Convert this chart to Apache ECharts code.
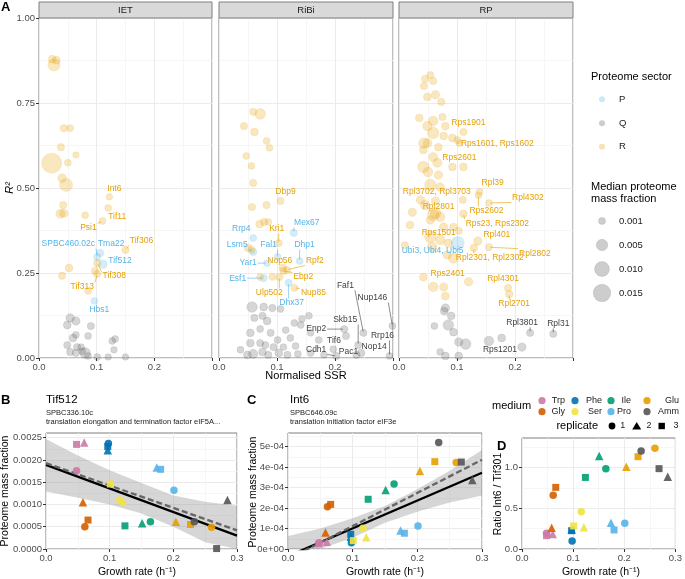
<!DOCTYPE html>
<html>
<head>
<meta charset="utf-8">
<script src="https://cdn.jsdelivr.net/npm/echarts@6/dist/echarts.min.js"></script>
<style>
  html, body { margin: 0; padding: 0; background: #fff; }
  #chart { width: 685px; height: 579px; }
</style>
</head>
<body>
<div id="chart"></div>
<script>
const FONT = '"Liberation Sans", Arial, Helvetica, sans-serif';

// ---- panel A: normalised SSR vs R2, one list per facet ----
// [normalised SSR, R2, median proteome mass fraction, sector, label]
const ietPoints = [
  [0.023, 0.879, 0.0015, 'R'], [0.030, 0.876, 0.0015, 'R'], [0.026, 0.862, 0.0060, 'R'],
  [0.043, 0.676, 0.0012, 'R'], [0.054, 0.676, 0.0010, 'R'], [0.038, 0.620, 0.0012, 'R'],
  [0.064, 0.597, 0.0008, 'R'], [0.050, 0.574, 0.0010, 'R'], [0.022, 0.573, 0.0210, 'R'],
  [0.040, 0.529, 0.0022, 'R'], [0.047, 0.509, 0.0070, 'R'], [0.042, 0.450, 0.0012, 'R'],
  [0.037, 0.424, 0.0025, 'R'], [0.043, 0.426, 0.0020, 'R'], [0.080, 0.420, 0.0010, 'R'],
  [0.085, 0.197, 0.0010, 'R'], [0.097, 0.256, 0.0012, 'R'], [0.052, 0.265, 0.0015, 'R'],
  [0.040, 0.242, 0.0012, 'R'],
  [0.122, 0.474, 0.0008, 'R', 'Int6'], [0.120, 0.441, 0.0010, 'R', 'Tif11'],
  [0.110, 0.403, 0.0010, 'R', 'Psi1'], [0.150, 0.318, 0.0012, 'R', 'Tif306'],
  [0.106, 0.309, 0.0012, 'P', 'Tma22'], [0.101, 0.297, 0.0012, 'P', 'SPBC460.02c'],
  [0.111, 0.276, 0.0020, 'P', 'Tif512'], [0.101, 0.279, 0.0012, 'R', 'Tif308'],
  [0.101, 0.247, 0.0012, 'R', 'Tif313'], [0.096, 0.168, 0.0010, 'P', 'Hbs1'],
  [0.054, 0.118, 0.0020, 'Q'], [0.064, 0.109, 0.0020, 'Q'], [0.049, 0.097, 0.0015, 'Q'],
  [0.090, 0.094, 0.0012, 'Q'], [0.059, 0.059, 0.0015, 'Q'], [0.064, 0.068, 0.0010, 'Q'],
  [0.085, 0.065, 0.0010, 'Q'], [0.132, 0.056, 0.0010, 'Q'], [0.127, 0.050, 0.0010, 'Q'],
  [0.049, 0.038, 0.0012, 'Q'], [0.066, 0.032, 0.0012, 'Q'], [0.073, 0.032, 0.0010, 'Q'],
  [0.130, 0.024, 0.0008, 'Q'], [0.054, 0.018, 0.0012, 'Q'], [0.080, 0.015, 0.0040, 'Q'],
  [0.064, 0.015, 0.0012, 'Q'], [0.085, 0.006, 0.0010, 'Q'], [0.101, 0.003, 0.0010, 'Q'],
  [0.120, 0.003, 0.0008, 'Q'], [0.150, 0.003, 0.0008, 'Q'], [0.075, 0.020, 0.0010, 'Q']
];
const ribiPoints = [
  [0.059, 0.724, 0.0012, 'R'], [0.071, 0.718, 0.0040, 'R'], [0.043, 0.682, 0.0012, 'R'],
  [0.061, 0.665, 0.0015, 'R'], [0.082, 0.638, 0.0010, 'R'], [0.087, 0.618, 0.0010, 'R'],
  [0.047, 0.594, 0.0010, 'R'], [0.056, 0.565, 0.0010, 'R'], [0.059, 0.515, 0.0012, 'R'],
  [0.057, 0.444, 0.0012, 'R'], [0.082, 0.450, 0.0012, 'R'], [0.070, 0.394, 0.0015, 'R'],
  [0.078, 0.400, 0.0012, 'R'], [0.085, 0.400, 0.0010, 'R'], [0.050, 0.324, 0.0015, 'R'],
  [0.056, 0.318, 0.0012, 'R'], [0.071, 0.238, 0.0010, 'R'], [0.092, 0.238, 0.0010, 'R'],
  [0.106, 0.462, 0.0012, 'R', 'Dbp9'], [0.103, 0.338, 0.0012, 'R', 'Kri1'],
  [0.129, 0.368, 0.0012, 'P', 'Mex67'], [0.059, 0.353, 0.0010, 'P', 'Rrp4'],
  [0.059, 0.312, 0.0012, 'P', 'Lsm5'], [0.101, 0.297, 0.0010, 'P', 'Fal1'],
  [0.139, 0.285, 0.0010, 'P', 'Dhp1'], [0.083, 0.279, 0.0010, 'P', 'Yar1'],
  [0.110, 0.265, 0.0015, 'R', 'Nop56'], [0.117, 0.259, 0.0012, 'R', 'Rpf2'],
  [0.111, 0.256, 0.0012, 'R', 'Ebp2'], [0.077, 0.235, 0.0012, 'P', 'Esf1'],
  [0.104, 0.238, 0.0012, 'R', 'Ulp502'], [0.130, 0.206, 0.0012, 'R', 'Nup85'],
  [0.120, 0.221, 0.0012, 'P', 'Dhx37'],
  [0.249, 0.074, 0.0012, 'Q', 'Faf1'], [0.299, 0.094, 0.0010, 'Q', 'Nup146'],
  [0.240, 0.038, 0.0012, 'Q', 'Skb15'], [0.216, 0.085, 0.0012, 'Q', 'Enp2'],
  [0.294, 0.006, 0.0010, 'Q', 'Rrp16'], [0.219, 0.065, 0.0012, 'Q', 'Tif6'],
  [0.245, 0.015, 0.0012, 'Q', 'Nop14'], [0.237, 0.009, 0.0012, 'Q', 'Pac1'],
  [0.202, 0.006, 0.0012, 'Q', 'Cdh1'],
  [0.057, 0.150, 0.0040, 'Q'], [0.077, 0.150, 0.0015, 'Q'], [0.092, 0.147, 0.0012, 'Q'],
  [0.061, 0.118, 0.0012, 'Q'], [0.075, 0.124, 0.0012, 'Q'], [0.106, 0.144, 0.0010, 'Q'],
  [0.083, 0.109, 0.0015, 'Q'], [0.130, 0.103, 0.0010, 'Q'], [0.155, 0.124, 0.0010, 'Q'],
  [0.143, 0.115, 0.0010, 'Q'], [0.054, 0.074, 0.0015, 'Q'], [0.071, 0.085, 0.0010, 'Q'],
  [0.089, 0.074, 0.0012, 'Q'], [0.115, 0.082, 0.0010, 'Q'], [0.141, 0.097, 0.0010, 'Q'],
  [0.054, 0.044, 0.0015, 'Q'], [0.071, 0.044, 0.0012, 'Q'], [0.101, 0.053, 0.0010, 'Q'],
  [0.123, 0.059, 0.0010, 'Q'], [0.158, 0.074, 0.0010, 'Q'], [0.059, 0.012, 0.0025, 'Q'],
  [0.075, 0.018, 0.0015, 'Q'], [0.085, 0.009, 0.0012, 'Q'], [0.103, 0.015, 0.0015, 'Q'],
  [0.118, 0.009, 0.0012, 'Q'], [0.136, 0.012, 0.0010, 'Q'], [0.158, 0.015, 0.0010, 'Q'],
  [0.181, 0.009, 0.0010, 'Q'], [0.197, 0.026, 0.0010, 'Q'], [0.094, 0.032, 0.0012, 'Q'],
  [0.111, 0.032, 0.0010, 'Q'], [0.049, 0.009, 0.0015, 'Q'], [0.037, 0.024, 0.0010, 'Q'],
  [0.080, 0.038, 0.0010, 'Q'], [0.132, 0.035, 0.0010, 'Q'], [0.172, 0.053, 0.0010, 'Q']
];
const rpPoints = [
  [0.054, 0.832, 0.0012, 'R'], [0.059, 0.815, 0.0012, 'R'], [0.045, 0.821, 0.0012, 'R'],
  [0.043, 0.800, 0.0012, 'R'], [0.049, 0.768, 0.0015, 'R'], [0.063, 0.774, 0.0020, 'R'],
  [0.073, 0.753, 0.0012, 'R'], [0.035, 0.706, 0.0015, 'R'], [0.049, 0.682, 0.0030, 'R'],
  [0.059, 0.697, 0.0030, 'R'], [0.075, 0.709, 0.0012, 'R'], [0.059, 0.662, 0.0050, 'R'],
  [0.080, 0.682, 0.0015, 'R'], [0.077, 0.653, 0.0015, 'R'], [0.092, 0.647, 0.0015, 'R'],
  [0.101, 0.641, 0.0012, 'R'], [0.049, 0.632, 0.0025, 'R'], [0.043, 0.632, 0.0040, 'R'],
  [0.068, 0.620, 0.0015, 'R'], [0.042, 0.612, 0.0015, 'R'], [0.059, 0.591, 0.0025, 'R'],
  [0.042, 0.562, 0.0050, 'R'], [0.050, 0.547, 0.0030, 'R'], [0.066, 0.574, 0.0025, 'R'],
  [0.068, 0.538, 0.0020, 'R'], [0.092, 0.562, 0.0015, 'R'], [0.054, 0.509, 0.0050, 'R'],
  [0.071, 0.503, 0.0020, 'R'], [0.059, 0.421, 0.0050, 'R'], [0.071, 0.415, 0.0030, 'R'],
  [0.054, 0.406, 0.0020, 'R'], [0.077, 0.385, 0.0020, 'R'], [0.094, 0.385, 0.0015, 'R'],
  [0.054, 0.356, 0.0050, 'R'], [0.071, 0.347, 0.0030, 'R'], [0.085, 0.338, 0.0020, 'R'],
  [0.057, 0.326, 0.0030, 'R'], [0.094, 0.294, 0.0040, 'R'], [0.083, 0.303, 0.0020, 'R'],
  [0.059, 0.209, 0.0030, 'R'], [0.077, 0.209, 0.0020, 'R'], [0.080, 0.182, 0.0015, 'R'],
  [0.042, 0.238, 0.0015, 'R'], [0.019, 0.391, 0.0015, 'R'], [0.010, 0.332, 0.0012, 'R'],
  [0.037, 0.465, 0.0020, 'R'], [0.023, 0.429, 0.0020, 'R'], [0.045, 0.450, 0.0030, 'R'],
  [0.063, 0.462, 0.0020, 'R'],
  [0.111, 0.665, 0.0012, 'R', 'Rps1901'], [0.104, 0.632, 0.0010, 'R', 'Rps1601, Rps1602'],
  [0.111, 0.562, 0.0015, 'R', 'Rps2601'], [0.139, 0.488, 0.0010, 'R', 'Rpl39'],
  [0.110, 0.465, 0.0012, 'R', 'Rpl3702, Rpl3703'], [0.155, 0.456, 0.0010, 'R', 'Rpl4302'],
  [0.137, 0.479, 0.0010, 'R', 'Rps2602'], [0.063, 0.426, 0.0040, 'R', 'Rpl2801'],
  [0.111, 0.424, 0.0015, 'R', 'Rps23, Rps2302'], [0.103, 0.374, 0.0012, 'R', 'Rps1501'],
  [0.136, 0.344, 0.0020, 'R', 'Rpl401'], [0.101, 0.338, 0.0075, 'P', 'Ubi3, Ubi4, Ubi5'],
  [0.155, 0.326, 0.0012, 'R', 'Rpl2802'], [0.129, 0.324, 0.0015, 'R', 'Rpl2301, Rpl2302'],
  [0.120, 0.224, 0.0020, 'R', 'Rps2401'], [0.188, 0.206, 0.0012, 'R', 'Rpl4301'],
  [0.190, 0.188, 0.0015, 'R', 'Rpl2701'],
  [0.226, 0.074, 0.0012, 'Q', 'Rpl3801'], [0.266, 0.071, 0.0012, 'Q', 'Rpl31'],
  [0.212, 0.032, 0.0020, 'Q', 'Rps1201'],
  [0.080, 0.147, 0.0020, 'Q'], [0.078, 0.138, 0.0015, 'Q'], [0.090, 0.124, 0.0015, 'Q'],
  [0.061, 0.094, 0.0010, 'Q'], [0.085, 0.097, 0.0040, 'Q'], [0.094, 0.076, 0.0015, 'Q'],
  [0.103, 0.047, 0.0020, 'Q'], [0.115, 0.041, 0.0040, 'Q'], [0.155, 0.050, 0.0030, 'Q'],
  [0.177, 0.059, 0.0015, 'Q'], [0.080, 0.006, 0.0015, 'Q'], [0.103, 0.006, 0.0015, 'Q'],
  [0.071, 0.018, 0.0010, 'Q']
];
const facetNames = ['IET', 'RiBi', 'RP'];
const sectors = ['P', 'Q', 'R'];
const sizeBreaks = [0.001, 0.005, 0.010, 0.015];
const ssrTicks = [0, 0.1, 0.2];
const ssrGrid = [0, 0.1, 0.2, 0.3];
const ssrMinor = [0.05, 0.15, 0.25];
const r2Ticks = [0, 0.25, 0.5, 0.75, 1];
const r2Minor = [0.125, 0.375, 0.625, 0.875];

// ---- panels B-D: one row per medium, columns are replicates 1..3 ----
const media = ['Trp', 'Gly', 'Phe', 'Ser', 'Ile', 'Pro', 'Glu', 'Amm'];
const replicates = [1, 2, 3];
const growthRate = [
  [0.048, 0.060, 0.048], [0.061, 0.058, 0.066], [0.098, 0.097, 0.097], [0.116, 0.121, 0.101],
  [0.164, 0.151, 0.124], [0.201, 0.174, 0.180], [0.260, 0.204, 0.227], [0.233, 0.285, 0.268]
];
const tif512 = [
  [0.00176, 0.00239, 0.00235], [0.00050, 0.00105, 0.00065], [0.00237, 0.00222, 0.00230],
  [0.00110, 0.00106, 0.00146], [0.00061, 0.00058, 0.00052], [0.00132, 0.00183, 0.00179],
  [0.00049, 0.00061, 0.00055], [0.00061, 0.00110, 0.00001]
];
const int6 = [
  [0.31e-4, 0.36e-4, 0.25e-4], [2.07e-4, 0.81e-4, 2.18e-4], [0.31e-4, 0.60e-4, 0.72e-4],
  [1.01e-4, 0.57e-4, 0.41e-4], [3.18e-4, 2.88e-4, 2.43e-4], [1.12e-4, 0.90e-4, 0.77e-4],
  [4.23e-4, 3.81e-4, 4.27e-4], [5.20e-4, 3.37e-4, 4.25e-4]
];
const ratioInt6Tif301 = [
  [0.193, 0.184, 0.164], [0.660, 0.262, 0.758], [0.098, 0.240, 0.225], [0.459, 0.266, 0.283],
  [0.988, 1.143, 0.880], [0.316, 0.324, 0.234], [1.238, 1.010, 1.135], [1.205, 0.890, 0.988]
];

// fitted lines (at growth 0 and 0.3) and confidence band
const fitEnds = [0, 0.3];
const bandX = [0, 0.05, 0.1, 0.15, 0.2, 0.25, 0.3];
const tif512Fit = [0.00189, 0.00030];
const tif512FitAlt = [0.00193, 0.00042];
const tif512Upper = [0.00247, 0.00210, 0.00177, 0.00148, 0.00120, 0.00106, 0.00097];
const tif512Lower = [0.00129, 0.00115, 0.00100, 0.00080, 0.00050, 0.00015, -0.00035];
const int6Fit = [-0.35e-4, 3.73e-4];
const int6FitAlt = [-0.50e-4, 4.36e-4];
const int6Upper = [0.63e-4, 1.00e-4, 1.50e-4, 2.10e-4, 2.92e-4, 3.83e-4, 4.84e-4];
const int6Lower = [-1.33e-4, -0.34e-4, 0.55e-4, 1.28e-4, 1.82e-4, 2.27e-4, 2.62e-4];

const growthTicks = [0, 0.1, 0.2, 0.3];
const growthMinor = [0.05, 0.15, 0.25];
const tif512Ticks = [0, 0.0005, 0.001, 0.0015, 0.002, 0.0025];
const tif512Minor = [0.00025, 0.00075, 0.00125, 0.00175, 0.00225];
const int6Ticks = [0, 1e-4, 2e-4, 3e-4, 4e-4, 5e-4];
const int6Minor = [0.5e-4, 1.5e-4, 2.5e-4, 3.5e-4, 4.5e-4, 5.5e-4];
const ratioTicks = [0, 0.5, 1];
const ratioMinor = [0.25, 0.75, 1.25];

// ---- styling ----
const sectorColors = { P: '#56B4E9', Q: '#5a5a5a', R: '#E69F00' };
const labelColors = { P: '#56B4E9', Q: '#404040', R: '#E69F00' };
const mediumColors = ['#CC79A7', '#D55E00', '#0072B2', '#F0E442', '#009E73', '#56B4E9', '#E69F00', '#555555'];
const repSymbols = ['circle', 'triangle', 'rect'];
const repSizes = [7.5, 8.5, 7];

const labelNudge = {
  'Int6': [5, -8], 'Tif11': [9, 9], 'Psi1': [-14, 7], 'Tif306': [16, -9], 'Tma22': [11, -9],
  'SPBC460.02c': [-29, -13], 'Tif512': [17, -4], 'Tif308': [17, 13], 'Tif313': [-15, 13], 'Hbs1': [5, 9],
  'Dbp9': [5, -9], 'Kri1': [-2, -14], 'Mex67': [13, -10], 'Rrp4': [-12, -9], 'Lsm5': [-16, -7],
  'Fal1': [-9, -12], 'Dhp1': [5, -16], 'Yar1': [-19, 0], 'Nop56': [-3, -7], 'Rpf2': [28, -9],
  'Ebp2': [20, 6], 'Esf1': [-26, 1], 'Ulp502': [-10, 16], 'Nup85': [19, 5], 'Dhx37': [3, 20],
  'Faf1': [-18, -47], 'Nup146': [-20, -28], 'Skb15': [-13, -25], 'Enp2': [-28, 0], 'Rrp16': [-7, -20],
  'Tif6': [-12, 5], 'Nop14': [13, -6], 'Pac1': [-8, -3], 'Cdh1': [-20, -6],
  'Rps1901': [5, -9], 'Rps1601, Rps1602': [38, 1], 'Rps2601': [-4, -9], 'Rpl39': [13, -9],
  'Rpl3702, Rpl3703': [-26, -8], 'Rpl4302': [39, -5], 'Rps2602': [8, 16], 'Rpl2801': [3, -7],
  'Rps23, Rps2302': [34, 10], 'Rps1501': [-20, 2], 'Rpl401': [19, -6], 'Ubi3, Ubi4, Ubi5': [-25, 8],
  'Rpl2802': [46, 6], 'Rpl2301, Rpl2302': [16, 10], 'Rps2401': [-21, -8], 'Rpl4301': [-5, -9],
  'Rpl2701': [5, 10], 'Rpl3801': [-8, -10], 'Rpl31': [5, -10], 'Rps1201': [-22, 3]
};

const grids = [
  { left: 39, top: 18, width: 173, height: 340 },
  { left: 219, top: 18, width: 174, height: 340 },
  { left: 399, top: 18, width: 174, height: 340 },
  { left: 46, top: 433, width: 191, height: 116 },
  { left: 288, top: 433, width: 194, height: 116 },
  { left: 522, top: 438, width: 157, height: 111 }
];

function massToSize(m) {
  return 3.3 + 116 * Math.sqrt(m);
}

const measureCtx = document.createElement('canvas').getContext('2d');
measureCtx.font = '8.5px ' + FONT;
function textWidth(t) {
  return measureCtx.measureText(t).width;
}

function mainAxis(g, min, max, ticks, gridValues, opts) {
  return {
    type: 'value', gridIndex: g, min: min, max: max,
    axisLine: { show: false },
    axisTick: { show: opts.ticks !== false, length: 3, lineStyle: { color: '#333' }, customValues: gridValues },
    axisLabel: {
      show: opts.labels !== false, customValues: ticks, fontSize: opts.fontSize || 9.5,
      color: '#4d4d4d', fontFamily: FONT, margin: 4, formatter: opts.fmt
    },
    splitLine: { show: true, lineStyle: { color: '#ebebeb', width: 1 } }
  };
}

function minorAxis(g, min, max, values, position) {
  return {
    type: 'value', gridIndex: g, min: min, max: max, position: position,
    axisLine: { show: false }, axisTick: { show: false, customValues: values },
    axisLabel: { show: false, customValues: values },
    splitLine: { show: true, lineStyle: { color: '#f4f4f4', width: 0.8 } }
  };
}

const fmt1 = v => v.toFixed(1);
const fmt2 = v => v.toFixed(2);
const fmt4 = v => v.toFixed(4);
const fmtSci = v => v === 0 ? '0e+00' : Math.round(v * 1e4) + 'e-04';

const xRanges = [[0, 0.3], [0, 0.3], [0, 0.3], [0, 0.3], [0, 0.3], [0, 0.3]];
const yRanges = [[0, 1], [0, 1], [0, 1], [0, 0.002606], [0, 0.000567], [0, 1.365]];

const xAxes = [];
const yAxes = [];
for (let g = 0; g < 3; g++) {
  xAxes.push(mainAxis(g, 0, 0.3, ssrTicks, ssrGrid, { fmt: fmt1 }));
  yAxes.push(mainAxis(g, 0, 1, r2Ticks, r2Ticks, { fmt: fmt2, labels: g === 0, ticks: g === 0 }));
}
xAxes.push(mainAxis(3, 0, 0.3, growthTicks, growthTicks, { fmt: fmt1 }));
yAxes.push(mainAxis(3, 0, yRanges[3][1], tif512Ticks, tif512Ticks, { fmt: fmt4 }));
xAxes.push(mainAxis(4, 0, 0.3, growthTicks, growthTicks, { fmt: fmt1 }));
yAxes.push(mainAxis(4, 0, yRanges[4][1], int6Ticks, int6Ticks, { fmt: fmtSci }));
xAxes.push(mainAxis(5, 0, 0.3, growthTicks, growthTicks, { fmt: fmt1 }));
yAxes.push(mainAxis(5, 0, yRanges[5][1], ratioTicks, ratioTicks, { fmt: fmt1 }));
const xMinors = [ssrMinor, ssrMinor, ssrMinor, growthMinor, growthMinor, growthMinor];
const yMinors = [r2Minor, r2Minor, r2Minor, tif512Minor, int6Minor, ratioMinor];
for (let g = 0; g < 6; g++) {
  xAxes.push(minorAxis(g, xRanges[g][0], xRanges[g][1], xMinors[g], 'bottom'));
  yAxes.push(minorAxis(g, yRanges[g][0], yRanges[g][1], yMinors[g], 'left'));
}

const series = [];

// panel A points
[ietPoints, ribiPoints, rpPoints].forEach((points, g) => {
  sectors.forEach(s => {
    series.push({
      type: 'scatter', name: s, xAxisIndex: g, yAxisIndex: g, silent: true,
      data: points.filter(p => p[3] === s).map(p => [p[0], p[1], p[2]]),
      symbolSize: v => massToSize(v[2]),
      itemStyle: { color: sectorColors[s], opacity: 0.25, borderColor: sectorColors[s], borderWidth: 0.5 }
    });
  });
  const labelled = points.filter(p => p[4]);
  series.push({
    type: 'custom', xAxisIndex: g, yAxisIndex: g, clip: false, silent: true, z: 4,
    data: labelled.map(p => [p[0], p[1]]),
    encode: { x: 0, y: 1 },
    renderItem: function (params, api) {
      const p = labelled[params.dataIndex];
      const c = api.coord([api.value(0), api.value(1)]);
      const n = labelNudge[p[4]] || [0, 0];
      const lx = c[0] + n[0];
      const ly = c[1] + n[1];
      const w = textWidth(p[4]) + 2;
      const h = 9;
      const qx = Math.max(lx - w / 2, Math.min(c[0], lx + w / 2));
      const qy = Math.max(ly - h / 2, Math.min(c[1], ly + h / 2));
      const d = Math.hypot(qx - c[0], qy - c[1]);
      const color = labelColors[p[3]];
      const children = [];
      if (d > 5) {
        const ux = (qx - c[0]) / d, uy = (qy - c[1]) / d;
        children.push({
          type: 'line',
          shape: { x1: c[0] + ux * 1.5, y1: c[1] + uy * 1.5, x2: qx, y2: qy },
          style: { stroke: color, lineWidth: 0.6 }
        });
      }
      children.push({
        type: 'text',
        style: { text: p[4], x: lx, y: ly, fill: color, font: '8.5px ' + FONT, align: 'center', verticalAlign: 'middle' }
      });
      return { type: 'group', children: children };
    }
  });
});

// confidence band as one polygon through the axis scales
function bandSeries(g, upper, lower) {
  return {
    type: 'custom', xAxisIndex: g, yAxisIndex: g, silent: true, z: 1,
    data: bandX.map((x, i) => [x, lower[i], upper[i]]),
    encode: { x: 0, y: [1, 2] },
    renderItem: function (params, api) {
      if (params.dataIndex !== 0) return null;
      const top = bandX.map((x, i) => api.coord([x, upper[i]]));
      const bottom = bandX.map((x, i) => api.coord([x, lower[i]])).reverse();
      const pts = echarts.graphic.clipPointsByRect(top.concat(bottom), params.coordSys);
      return { type: 'polygon', shape: { points: pts }, style: { fill: '#999999', opacity: 0.4 } };
    }
  };
}

function fitSeries(g, fit, alt) {
  return [
    {
      type: 'line', xAxisIndex: g, yAxisIndex: g, symbol: 'none', silent: true, z: 2,
      lineStyle: { color: '#000', width: 2.3 },
      data: fitEnds.map((x, i) => [x, fit[i]])
    },
    {
      type: 'line', xAxisIndex: g, yAxisIndex: g, symbol: 'none', silent: true, z: 2,
      lineStyle: { color: '#666666', width: 2.3, type: [6, 3] },
      data: fitEnds.map((x, i) => [x, alt[i]])
    }
  ];
}

function sampleSeries(g, values) {
  return media.map((m, mi) => ({
    type: 'scatter', name: m, xAxisIndex: g, yAxisIndex: g, silent: true, z: 5,
    data: replicates.map((r, ri) => ({
      value: [growthRate[mi][ri], values[mi][ri]],
      symbol: repSymbols[ri], symbolSize: repSizes[ri]
    })),
    itemStyle: { color: mediumColors[mi], opacity: 0.9 }
  }));
}

series.push(bandSeries(3, tif512Upper, tif512Lower), ...fitSeries(3, tif512Fit, tif512FitAlt), ...sampleSeries(3, tif512));
series.push(bandSeries(4, int6Upper, int6Lower), ...fitSeries(4, int6Fit, int6FitAlt), ...sampleSeries(4, int6));
series.push(...sampleSeries(5, ratioInt6Tif301));

// ---- annotations and legends ----
function txt(x, y, text, size, extra) {
  return {
    type: 'text', x: x, y: y, z: 20,
    style: Object.assign({ text: text, fill: '#1a1a1a', font: size + 'px ' + FONT, align: 'left', verticalAlign: 'middle' }, extra || {})
  };
}

const graphic = [];
graphic.push(txt(1, 7, 'A', 13, { font: 'bold 13px ' + FONT, fill: '#000' }));
grids.slice(0, 3).forEach((gr, i) => {
  graphic.push({ type: 'rect', z: 15, shape: { x: gr.left, y: 2, width: gr.width, height: 16 },
    style: { fill: '#d9d9d9', stroke: '#7f7f7f', lineWidth: 1 } });
  graphic.push(txt(gr.left + gr.width / 2, 10, facetNames[i], 9.5, { align: 'center' }));
});
graphic.push({ type: 'text', x: 10, y: 188, rotation: Math.PI / 2, z: 20,
  style: { text: 'R²', font: 'italic 11px ' + FONT, fill: '#000', align: 'center', verticalAlign: 'middle' } });
graphic.push(txt(306, 376, 'Normalised SSR', 11, { align: 'center', fill: '#000' }));

// sector legend
graphic.push(txt(591, 77, 'Proteome sector', 11, { fill: '#000' }));
sectors.forEach((s, i) => {
  const y = [99.3, 123.3, 146.7][i];
  graphic.push({ type: 'circle', z: 20, shape: { cx: 602, cy: y, r: 3 },
    style: { fill: sectorColors[s], opacity: 0.3 } });
  graphic.push(txt(619, y, s, 9.5));
});
graphic.push(txt(591, 187, 'Median proteome', 11, { fill: '#000' }));
graphic.push(txt(591, 199, 'mass fraction', 11, { fill: '#000' }));
sizeBreaks.forEach((m, i) => {
  const y = [221, 245, 269, 293][i];
  graphic.push({ type: 'circle', z: 20, shape: { cx: 602, cy: y, r: massToSize(m) / 2 },
    style: { fill: sectorColors.Q, opacity: 0.3, stroke: sectorColors.Q, lineWidth: 0.5 } });
  graphic.push(txt(619, y, m.toFixed(3), 9.5));
});

// panel titles
graphic.push(txt(1, 400, 'B', 13, { font: 'bold 13px ' + FONT, fill: '#000' }));
graphic.push(txt(46, 400, 'Tif512', 11.5, { fill: '#000' }));
graphic.push(txt(46, 413, 'SPBC336.10c', 7.5));
graphic.push(txt(46, 422, 'translation elongation and termination factor eIF5A...', 7.5));
graphic.push(txt(247, 400, 'C', 13, { font: 'bold 13px ' + FONT, fill: '#000' }));
graphic.push(txt(290, 400, 'Int6', 11.5, { fill: '#000' }));
graphic.push(txt(290, 413, 'SPBC646.09c', 7.5));
graphic.push(txt(290, 422, 'translation initiation factor eIF3e', 7.5));
graphic.push(txt(497, 446, 'D', 13, { font: 'bold 13px ' + FONT, fill: '#000' }));

// axis titles B-D
[[5, 491, 'Proteome mass fraction'], [253, 492, 'Proteome mass fraction'], [498, 494, 'Ratio Int6 / Tif301']].forEach(a => {
  graphic.push({ type: 'text', x: a[0], y: a[1], rotation: Math.PI / 2, z: 20,
    style: { text: a[2], font: '10.5px ' + FONT, fill: '#000', align: 'center', verticalAlign: 'middle' } });
});
[137, 385, 601].forEach(x => {
  graphic.push(txt(x, 572, 'Growth rate (h⁻¹)', 10.5, { align: 'center', fill: '#000' }));
});

// medium legend
graphic.push(txt(492, 406, 'medium', 11, { fill: '#000' }));
const colKeyX = [542, 575, 611, 647];
const colLabelRight = [565, 602, 631, 679];
media.forEach((m, mi) => {
  const col = Math.floor(mi / 2);
  const y = mi % 2 === 0 ? 400.7 : 411.7;
  graphic.push({ type: 'circle', z: 20, shape: { cx: colKeyX[col], cy: y, r: 3.6 },
    style: { fill: mediumColors[mi], opacity: 0.9 } });
  graphic.push(txt(colLabelRight[col], y, m, 9, { align: 'right' }));
});
graphic.push(txt(598, 426, 'replicate', 11, { align: 'right', fill: '#000' }));
graphic.push({ type: 'circle', z: 20, shape: { cx: 612, cy: 426, r: 3.4 }, style: { fill: '#000' } });
graphic.push(txt(622.7, 426, '1', 9, { align: 'center' }));
graphic.push({ type: 'polygon', z: 20, shape: { points: [[636.7, 422], [641.2, 429.5], [632.2, 429.5]] }, style: { fill: '#000' } });
graphic.push(txt(649, 426, '2', 9, { align: 'center' }));
graphic.push({ type: 'rect', z: 20, shape: { x: 658.5, y: 422.8, width: 6.4, height: 6.4 }, style: { fill: '#000' } });
graphic.push(txt(676, 426, '3', 9, { align: 'center' }));

const chart = echarts.init(document.getElementById('chart'), null, { renderer: 'canvas' });
chart.setOption({
  backgroundColor: '#ffffff',
  animation: false,
  textStyle: { fontFamily: FONT },
  grid: grids.map(g => Object.assign({ show: true, borderColor: '#7f7f7f', borderWidth: 1, backgroundColor: 'transparent', containLabel: false }, g)),
  xAxis: xAxes,
  yAxis: yAxes,
  series: series,
  graphic: graphic
});
</script>
</body>
</html>
